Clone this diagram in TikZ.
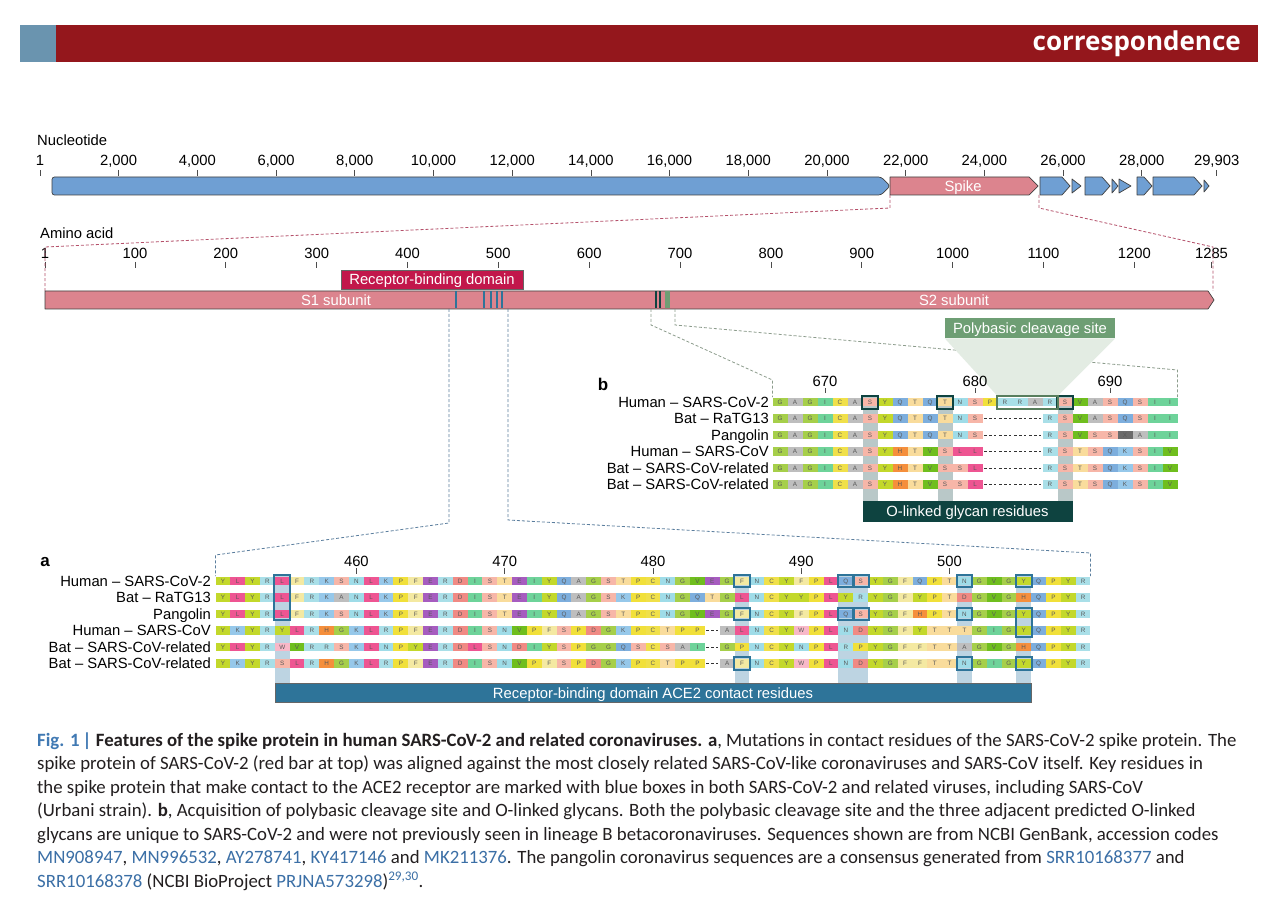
\documentclass[tikz,border=0pt]{standalone}
\usepackage{fontspec}
\setmainfont{Liberation Sans}
\newfontfamily\capfont{Carlito}
\newfontfamily\headfont{Open Sans}
\usetikzlibrary{positioning}

\newcommand\lblsize{\fontsize{14.8}{17}\selectfont}

\definecolor{hdred}{HTML}{94171C}
\definecolor{hdblue}{HTML}{6A94AF}
\definecolor{ntblue}{HTML}{6F9FD3}
\definecolor{spkpink}{HTML}{DC848E}
\definecolor{rbdred}{HTML}{C2174B}
\definecolor{acteal}{HTML}{2E7499}
\definecolor{glydark}{HTML}{0E4340}
\definecolor{polygreen}{HTML}{6E9E74}
\definecolor{polylight}{HTML}{E3ECE3}
\definecolor{stripa}{HTML}{BDD4E2}
\definecolor{stripb}{HTML}{B9C8C8}
\definecolor{linkblue}{HTML}{3B6FA6}
\definecolor{figblue}{HTML}{4079B3}
\definecolor{capgrey}{HTML}{231F20}
\definecolor{zoomred}{HTML}{B5506A}
\definecolor{zoomblue}{HTML}{5B7E9E}
\definecolor{zoomgreen}{HTML}{8C9C8C}

\definecolor{aaA}{HTML}{BEBEBE}
\definecolor{aaC}{HTML}{F0E04A}
\definecolor{aaD}{HTML}{F08A84}
\definecolor{aaE}{HTML}{A65CBF}
\definecolor{aaF}{HTML}{F4E9A2}
\definecolor{aaG}{HTML}{A6CF4A}
\definecolor{aaH}{HTML}{F58F3C}
\definecolor{aaI}{HTML}{6ED39A}
\definecolor{aaK}{HTML}{96C8EA}
\definecolor{aaL}{HTML}{EE5592}
\definecolor{aaN}{HTML}{9FDCE8}
\definecolor{aaP}{HTML}{F1E03A}
\definecolor{aaQ}{HTML}{7DAEDD}
\definecolor{aaR}{HTML}{A9DFE8}
\definecolor{aaS}{HTML}{F7B6A8}
\definecolor{aaT}{HTML}{F9DC9C}
\definecolor{aaV}{HTML}{6FBE1E}
\definecolor{aaW}{HTML}{F8B8C8}
\definecolor{aaX}{HTML}{6B6B6B}
\definecolor{aaY}{HTML}{C3D82B}

\def\gapres{0}
\newcommand\alnrow[5]{%
  \foreach \resn [count=\ci from 0] in {#5}{%
    \pgfmathsetmacro\cx{#2+(\ci+0.5)*#3}%
    \ifx\resn\gapres
      \draw[gapline] (\cx-#3/2+1.5,#4) -- (\cx+#3/2-1.5,#4);
    \else
      \fill[fill=aa\resn] (\cx-#3/2,#4-4.4) rectangle (\cx+#3/2,#4+4.4);
      \node[resid] (#1-\ci) at (\cx,#4) {\resn};
    \fi
  }%
}

\begin{document}
\begin{tikzpicture}[x=1pt,y=-1pt,
  lbl/.style={font=\lblsize,text height=10.6pt,text depth=0pt,inner sep=0pt},
  resid/.style={font=\fontsize{6.3}{7}\selectfont,text=black!65,text height=4.5pt,text depth=0pt,inner sep=0pt},
  gapline/.style={densely dashed,line width=0.6pt,black!80},
  tickmk/.style={line width=0.7pt,draw=black!70},
  gene/.style={fill=ntblue,draw=black!75,line width=0.7pt,line join=round},
  bandbox/.style={draw=black!60,line width=0.6pt,text=white,font=\lblsize,inner sep=0pt,text height=10.6pt,text depth=0pt},
  abox/.style={draw=acteal,line width=2pt},
  bbox/.style={draw=glydark,line width=2pt},
  ntzoom/.style={draw=zoomred,line width=0.8pt,dash pattern=on 3pt off 2pt},
  azoom/.style={draw=zoomblue,line width=0.8pt,dash pattern=on 3pt off 2pt},
  bzoom/.style={draw=zoomgreen,line width=0.8pt,dash pattern=on 3pt off 2pt},
  caption/.style={font=\capfont\fontsize{18.8}{22}\selectfont,text=capgrey,inner sep=0pt,anchor=base west}]

\useasboundingbox (0,0) rectangle (1280,901);
\fill[white] (0,0) rectangle (1280,901);

\fill[hdblue] (20,25) rectangle (56,62);
\fill[hdred] (56,25) rectangle (1258,62);
\node[font=\headfont\bfseries\fontsize{26}{28}\selectfont,text=white,anchor=east,inner sep=0pt] (head) at (1241,44) {correspondence};

\node[lbl,anchor=west] (ntlab) at (37,140) {Nucleotide};
\foreach \n/\t in {0.001/1,2/{2,000},4/{4,000},6/{6,000},8/{8,000},10/{10,000},12/{12,000},14/{14,000},16/{16,000},18/{18,000},20/{20,000},22/{22,000},24/{24,000},26/{26,000},28/{28,000},29.903/{29,903}}{
  \pgfmathsetmacro\tx{40+(\n-0.001)*39.35}
  \node[lbl] (nt\n) at (\tx,160) {\t};
  \draw[tickmk] (\tx,170) -- (\tx,176);
}

\draw[gene,rounded corners=2.5pt] (52,177) -- (881,177) -- (890,186) -- (881,195) -- (52,195) -- cycle;
\draw[gene,fill=spkpink] (890,177) -- (1029,177) -- (1038,186) -- (1029,195) -- (890,195) -- cycle;
\node[lbl,text=white] (spike) at (963,186) {Spike};
\draw[gene] (1040,177) -- (1062,177) -- (1070,186) -- (1062,195) -- (1040,195) -- cycle;
\draw[gene] (1072,179) -- (1081,186) -- (1072,193) -- cycle;
\draw[gene] (1085,177) -- (1102,177) -- (1110,186) -- (1102,195) -- (1085,195) -- cycle;
\draw[gene] (1112,179) -- (1118,186) -- (1112,193) -- cycle;
\draw[gene] (1119,179) -- (1131,186) -- (1119,193) -- cycle;
\draw[gene] (1137,177) -- (1144,177) -- (1152,186) -- (1144,195) -- (1137,195) -- cycle;
\draw[gene] (1153,177) -- (1194,177) -- (1202,186) -- (1194,195) -- (1153,195) -- cycle;
\draw[gene] (1204,180) -- (1209,186) -- (1204,192) -- cycle;

\node[lbl,anchor=west] (aalab) at (40,233) {Amino acid};
\foreach \a in {1,100,200,300,400,500,600,700,800,900,1000,1100,1200,1285}{
  \pgfmathsetmacro\tx{45+(\a-1)*0.9085}
  \node[lbl] (aa\a) at (\tx,253) {\a};
  \draw[tickmk] (\tx,262) -- (\tx,268);
}

\coordinate (spkL) at (890,195);
\coordinate (spkR) at (1039,195);
\coordinate (protL) at (45,291);
\coordinate (protR) at (1213,291);
\draw[ntzoom] (spkL) -- (890,208) -- (45,247) -- (protL);
\draw[ntzoom] (spkR) -- (1039,208) -- (1213,247) -- (protR);

\node[bandbox,fill=rbdred,minimum width=182pt,minimum height=19pt] (rbd) at (432,279.5) {Receptor-binding domain};

\draw[gene,fill=spkpink] (45,291) -- (1208,291) -- (1214,300) -- (1208,309) -- (45,309) -- cycle;
\foreach \x in {456,484,490.5,497,502}
  \draw[acteal,line width=2pt] (\x,291.5) -- (\x,308.5);
\draw[glydark,line width=1.8pt] (656,291.5) -- (656,308.5) (660,291.5) -- (660,308.5);
\fill[polygreen] (665,291.5) rectangle (670,308.5);
\node[lbl,text=white] (s1) at (336,300) {S1 subunit};
\node[lbl,text=white] (s2) at (954,300) {S2 subunit};

\coordinate (rbdcutL) at (449,309);
\coordinate (rbdcutR) at (508,309);
\coordinate (alnaL) at (215.5,576);
\coordinate (alnaR) at (1090.5,576);
\draw[azoom] (rbdcutL) -- (449,523) -- (215.5,555) -- (alnaL);
\draw[azoom] (rbdcutR) -- (508,520) -- (1090.5,553) -- (alnaR);

\coordinate (furcutL) at (651,309);
\coordinate (furcutR) at (675,309);
\coordinate (alnbL) at (772.5,397);
\coordinate (alnbR) at (1177.5,397);
\draw[bzoom] (furcutL) -- (651,325) -- (772.5,380) -- (alnbL);
\draw[bzoom] (furcutR) -- (675,325) -- (1177.5,370) -- (alnbR);

\node[bandbox,draw=none,fill=polygreen,minimum width=170pt,minimum height=20pt] (poly) at (1030,328) {Polybasic cleavage site};
\fill[polylight] (poly.south west) -- (poly.south east) -- (1057.5,396) -- (997.5,396) -- cycle;

\node[font=\bfseries\fontsize{17}{19}\selectfont,inner sep=0pt] (panb) at (603,384) {b};
\foreach \c/\t in {3/670,13/680,22/690}{
  \pgfmathsetmacro\tx{772.5+(\c+0.5)*15}
  \node[lbl] (tb\t) at (\tx,381) {\t};
  \draw[tickmk] (\tx,388) -- (\tx,393);
}
\foreach \nm [count=\ri from 0] in {Human – SARS-CoV-2,Bat – RaTG13,Pangolin,Human – SARS-CoV,Bat – SARS-CoV-related,Bat – SARS-CoV-related}
  \node[lbl,anchor=east] (blab\ri) at (769,402+\ri*16.5) {\nm};
\foreach \c in {6,11,19}
  \fill[stripb] (772.5+\c*15,397) rectangle ++(15,104);
\alnrow{rb1}{772.5}{15}{402}{G,A,G,I,C,A,S,Y,Q,T,Q,T,N,S,P,R,R,A,R,S,V,A,S,Q,S,I,I}
\alnrow{rb2}{772.5}{15}{418.5}{G,A,G,I,C,A,S,Y,Q,T,Q,T,N,S,0,0,0,0,R,S,V,A,S,Q,S,I,I}
\alnrow{rb3}{772.5}{15}{435}{G,A,G,I,C,A,S,Y,Q,T,Q,T,N,S,0,0,0,0,R,S,V,S,S,X,A,I,I}
\alnrow{rb4}{772.5}{15}{451.5}{G,A,G,I,C,A,S,Y,H,T,V,S,L,L,0,0,0,0,R,S,T,S,Q,K,S,I,V}
\alnrow{rb5}{772.5}{15}{468}{G,A,G,I,C,A,S,Y,H,T,V,S,S,L,0,0,0,0,R,S,T,S,Q,K,S,I,V}
\alnrow{rb6}{772.5}{15}{484.5}{G,A,G,I,C,A,S,Y,H,T,V,S,S,L,0,0,0,0,R,S,T,S,Q,K,S,I,V}
\foreach \c in {6,11,19}
  \draw[bbox] (772.5+\c*15-0.5,395.5) rectangle ++(16,13);
\draw[draw=polygreen!80!black,line width=2pt] (772.5+15*15-0.5,395.5) rectangle ++(61,13);
\node[bandbox,draw=none,fill=glydark,minimum width=210pt,minimum height=21pt] (glyc) at (967.5,511.5) {O-linked glycan residues};

\node[font=\bfseries\fontsize{17}{19}\selectfont,inner sep=0pt] (pana) at (45,562) {a};
\foreach \c/\t in {9/460,19/470,29/480,39/490,49/500}{
  \pgfmathsetmacro\tx{215.5+(\c+0.5)*14.83}
  \node[lbl] (ta\t) at (\tx,561) {\t};
  \draw[tickmk] (\tx,568) -- (\tx,574);
}
\foreach \nm [count=\ri from 0] in {Human – SARS-CoV-2,Bat – RaTG13,Pangolin,Human – SARS-CoV,Bat – SARS-CoV-related,Bat – SARS-CoV-related}
  \node[lbl,anchor=east] (alab\ri) at (211,581+\ri*16.5) {\nm};
\foreach \c in {4,35,42,43,50,54}
  \fill[stripa] (215.5+\c*14.83,576) rectangle ++(14.83,108);
\alnrow{ra1}{215.5}{14.83}{581}{Y,L,Y,R,L,F,R,K,S,N,L,K,P,F,E,R,D,I,S,T,E,I,Y,Q,A,G,S,T,P,C,N,G,V,E,G,F,N,C,Y,F,P,L,Q,S,Y,G,F,Q,P,T,N,G,V,G,Y,Q,P,Y,R}
\alnrow{ra2}{215.5}{14.83}{597.5}{Y,L,Y,R,L,F,R,K,A,N,L,K,P,F,E,R,D,I,S,T,E,I,Y,Q,A,G,S,K,P,C,N,G,Q,T,G,L,N,C,Y,Y,P,L,Y,R,Y,G,F,Y,P,T,D,G,V,G,H,Q,P,Y,R}
\alnrow{ra3}{215.5}{14.83}{614}{Y,L,Y,R,L,F,R,K,S,N,L,K,P,F,E,R,D,I,S,T,E,I,Y,Q,A,G,S,T,P,C,N,G,V,E,G,F,N,C,Y,F,P,L,Q,S,Y,G,F,H,P,T,N,G,V,G,Y,Q,P,Y,R}
\alnrow{ra4}{215.5}{14.83}{630.5}{Y,K,Y,R,Y,L,R,H,G,K,L,R,P,F,E,R,D,I,S,N,V,P,F,S,P,D,G,K,P,C,T,P,P,0,A,L,N,C,Y,W,P,L,N,D,Y,G,F,Y,T,T,T,G,I,G,Y,Q,P,Y,R}
\alnrow{ra5}{215.5}{14.83}{647}{Y,L,Y,R,W,V,R,R,S,K,L,N,P,Y,E,R,D,L,S,N,D,I,Y,S,P,G,G,Q,S,C,S,A,I,0,G,P,N,C,Y,N,P,L,R,P,Y,G,F,F,T,T,A,G,V,G,H,Q,P,Y,R}
\alnrow{ra6}{215.5}{14.83}{663.5}{Y,K,Y,R,S,L,R,H,G,K,L,R,P,F,E,R,D,I,S,N,V,P,F,S,P,D,G,K,P,C,T,P,P,0,A,F,N,C,Y,W,P,L,N,D,Y,G,F,F,T,T,N,G,I,G,Y,Q,P,Y,R}
\foreach \c/\f/\l in {4/0/2,35/0/0,35/2/2,35/5/5,42/0/0,42/2/2,43/0/0,43/2/2,50/0/0,50/2/2,50/5/5,54/0/0,54/2/3,54/5/5}
  \draw[abox] (215.5+\c*14.83-0.5,581+\f*16.5-6.3) rectangle (215.5+\c*14.83+15.33,581+\l*16.5+6.3);
\node[bandbox,fill=acteal,minimum width=756.4pt,minimum height=19pt] (ace2) at (653,693) {Receptor-binding domain ACE2 contact residues};

\node[caption] (cap1) at (37,746) {{\color{figblue}\bfseries Fig. 1\,|} {\bfseries Features of the spike protein in human SARS-CoV-2 and related coronaviruses. a}, Mutations in contact residues of the SARS-CoV-2 spike protein. The};
\node[caption] (cap2) at (37,769.5) {spike protein of SARS-CoV-2 (red bar at top) was aligned against the most closely related SARS-CoV-like coronaviruses and SARS-CoV itself. Key residues in};
\node[caption] (cap3) at (37,793) {the spike protein that make contact to the ACE2 receptor are marked with blue boxes in both SARS-CoV-2 and related viruses, including SARS-CoV};
\node[caption] (cap4) at (37,816.5) {(Urbani strain). {\bfseries b}, Acquisition of polybasic cleavage site and O-linked glycans. Both the polybasic cleavage site and the three adjacent predicted O-linked};
\node[caption] (cap5) at (37,840) {glycans are unique to SARS-CoV-2 and were not previously seen in lineage B betacoronaviruses. Sequences shown are from NCBI GenBank, accession codes};
\node[caption] (cap6) at (37,863.5) {{\color{linkblue}MN908947}, {\color{linkblue}MN996532}, {\color{linkblue}AY278741}, {\color{linkblue}KY417146} and {\color{linkblue}MK211376}. The pangolin coronavirus sequences are a consensus generated from {\color{linkblue}SRR10168377} and};
\node[caption] (cap7) at (37,887) {{\color{linkblue}SRR10168378} (NCBI BioProject {\color{linkblue}PRJNA573298})\textsuperscript{\color{linkblue}29,30}.};
\end{tikzpicture}
\end{document}
